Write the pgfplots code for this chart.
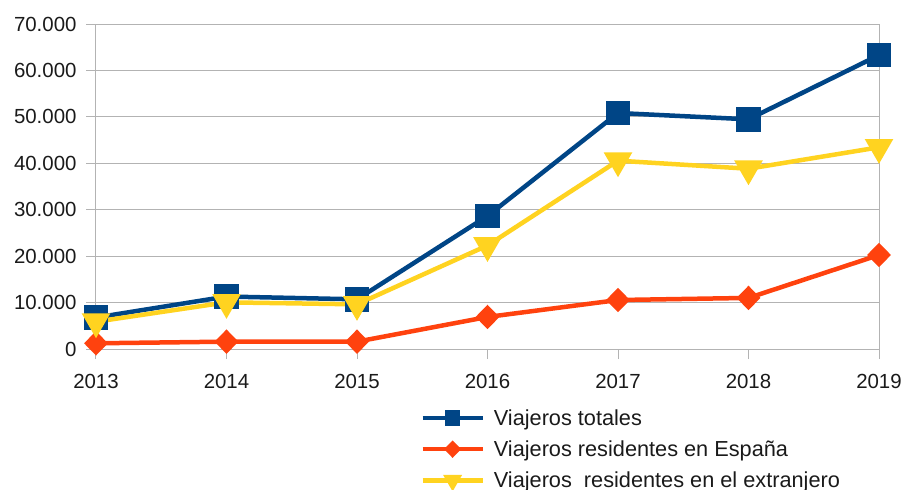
\documentclass[border=0pt]{standalone}
\usepackage{fontspec}
\setmainfont{Liberation Sans}
\usepackage{pgfplots}
\pgfplotsset{compat=1.18}
\definecolor{cblue}{HTML}{004586}
\definecolor{corange}{HTML}{FF420E}
\definecolor{cyellow}{HTML}{FFD320}
\definecolor{cgrid}{HTML}{B3B3B3}
\definecolor{ctext}{HTML}{1A1A1A}
\begin{document}
\begin{tikzpicture}[font=\fontsize{20.5}{24.6}\selectfont]
\begin{axis}[
  name=ax,
  scale only axis,
  width=783bp, height=325bp,
  xmin=2013, xmax=2019,
  ymin=0, ymax=70000,
  xtick={2013,2014,2015,2016,2017,2018,2019},
  xticklabels={2013,2014,2015,2016,2017,2018,2019},
  ytick={0,10000,20000,30000,40000,50000,60000,70000},
  scaled y ticks=false,
  yticklabel style={/pgf/number format/.cd,fixed,1000 sep={.},/tikz/.cd,xshift=-6bp},
  xticklabel style={yshift=-12bp},
  /pgf/number format/assume math mode=true,
  ymajorgrids,
  grid style={cgrid, line width=1bp},
  axis line style={cgrid, line width=1bp},
  tick style={cgrid, line width=1bp},
  tick align=outside,
  tick pos=left,
  major tick length=10bp,
  ticklabel style={text=ctext},
  clip=false,
  legend style={at={(0.414,-0.185)}, anchor=north west, draw=none, fill=none,
    font=\fontsize{21.8}{26}\selectfont, text=ctext, row sep=14bp,
    inner sep=0pt, nodes={inner xsep=9bp, inner ysep=0pt}},
  legend cell align=left,
  legend image code/.code={\draw[mark repeat=2,mark phase=2,#1] plot coordinates {(0bp,0bp) (30bp,0bp) (60bp,0bp)};},
]
\addplot[cblue, line width=4.5bp, mark=square*, mark size=10bp, mark options={solid}, legend image post style={mark size=5.5bp}]
 coordinates {(2013,6780) (2014,11300) (2015,10700) (2016,28650) (2017,50830) (2018,49470) (2019,63300)};
\addlegendentry{Viajeros totales}
\addplot[corange, line width=4.5bp, mark=diamond*, mark size=9bp, mark options={solid, xscale=1.3}, legend image post style={mark size=5.5bp}]
 coordinates {(2013,1230) (2014,1580) (2015,1580) (2016,6900) (2017,10550) (2018,11000) (2019,20250)};
\addlegendentry{Viajeros residentes en España}
\addplot[cyellow, line width=4.5bp, mark=triangle*, mark size=12bp, mark options={solid, rotate=180}, legend image post style={mark size=6.5bp}]
 coordinates {(2013,5880) (2014,10050) (2015,9620) (2016,22300) (2017,40560) (2018,38830) (2019,43440)};
\addlegendentry{Viajeros\ \ residentes en el extranjero}
\end{axis}
\pgfresetboundingbox
\path[use as bounding box] (-96bp,-141bp) rectangle (807bp,349bp);
\end{tikzpicture}
\end{document}
